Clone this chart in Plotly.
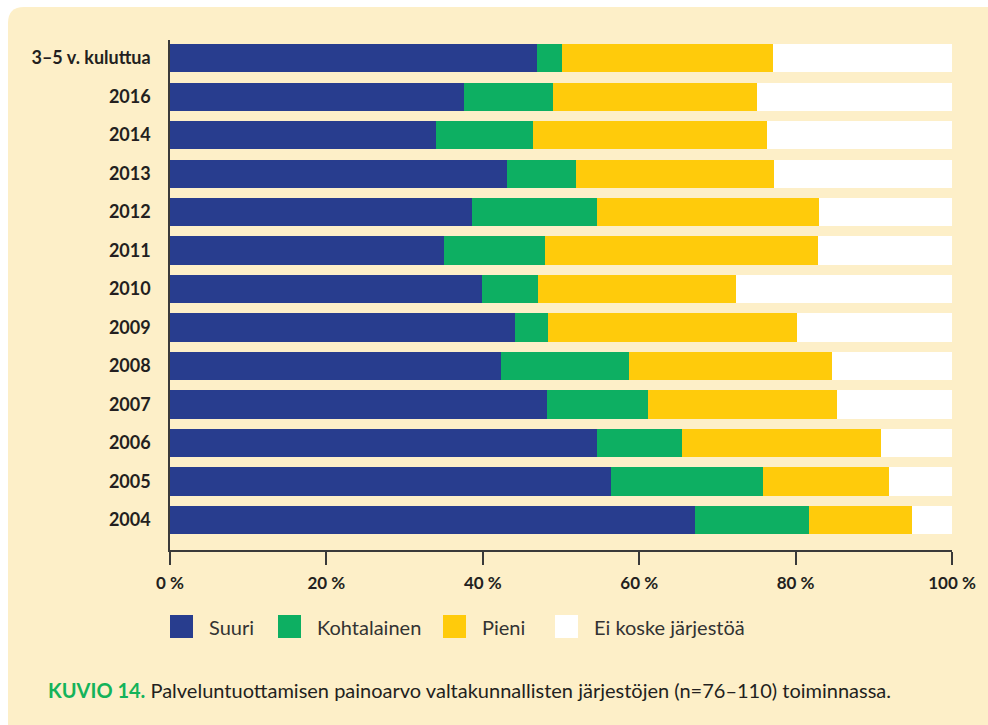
import plotly.graph_objects as go

# Categories (top to bottom) and the share of each answer, in percent
categories = ["3–5 v. kuluttua", "2016", "2014", "2013", "2012", "2011", "2010",
              "2009", "2008", "2007", "2006", "2005", "2004"]
suuri = [46.9, 37.6, 34.0, 43.1, 38.6, 35.0, 39.9, 44.1, 42.3, 48.2, 54.6, 56.4, 67.1]
kohtalainen = [3.2, 11.4, 12.4, 8.8, 16.0, 13.0, 7.2, 4.3, 16.4, 12.9, 10.9, 19.4, 14.6]
pieni = [27.0, 26.1, 29.9, 25.3, 28.4, 34.9, 25.3, 31.8, 26.0, 24.2, 25.4, 16.1, 13.2]
ei_koske = [22.9, 24.9, 23.7, 22.8, 17.0, 17.1, 27.6, 19.8, 15.3, 14.7, 9.1, 8.1, 5.1]

series_names = ["Suuri", "Kohtalainen", "Pieni", "Ei koske järjestöä"]
series_values = [suuri, kohtalainen, pieni, ei_koske]
series_colors = ["#283d8e", "#0daf62", "#ffcb0b", "#ffffff"]

x_ticks = [0, 20, 40, 60, 80, 100]
x_tick_labels = [f"{v} %" for v in x_ticks]

CREAM = "#fdefc8"
INK = "#231f20"
FONT = "Lato"

fig = go.Figure()
for name, vals, col in zip(series_names, series_values, series_colors):
    fig.add_trace(go.Bar(
        y=categories, x=vals, name=name, orientation="h",
        marker=dict(color=col, line=dict(width=0)),
        showlegend=False,
    ))

# Cream panel with a rounded top-left corner (paper coordinates)
W, H = 988, 725
L, R, T, B = 170, 36, 40, 175
pw, ph = W - L - R, H - T - B


def px_x(px):
    return (px - L) / pw


def px_y(py):
    return (H - B - py) / ph


x0, x1 = px_x(8), px_x(1000)
y0, y1 = px_y(740), px_y(7)
rx, ry = 16 / pw, 16 / ph
panel_path = (f"M {x0},{y0} L {x0},{y1 - ry} Q {x0},{y1} {x0 + rx},{y1} "
              f"L {x1},{y1} L {x1},{y0} Z")
shapes = [dict(type="path", path=panel_path, xref="paper", yref="paper",
               fillcolor=CREAM, line=dict(width=0), layer="below")]

# Legend drawn as swatches with labels below the axis
annotations = []
swatch_left = [170, 278, 443, 555]
for name, col, sx in zip(series_names, series_colors, swatch_left):
    shapes.append(dict(type="rect", xref="paper", yref="paper",
                       x0=px_x(sx), x1=px_x(sx + 23), y0=px_y(638), y1=px_y(615),
                       fillcolor=col, line=dict(width=0)))
    annotations.append(dict(text=name, xref="paper", yref="paper",
                            x=px_x(sx + 37), y=px_y(627), xanchor="left", yanchor="middle",
                            showarrow=False, font=dict(family=FONT, size=20, color="#333333")))

annotations.append(dict(
    text=("<span style='color:#14b35a'><b>KUVIO 14.</b></span> "
          "Palveluntuottamisen painoarvo valtakunnallisten järjestöjen (n=76–110) toiminnassa."),
    xref="paper", yref="paper", x=px_x(46), y=px_y(690),
    xanchor="left", yanchor="middle", showarrow=False,
    font=dict(family=FONT, size=20, color=INK)))

fig.update_layout(
    width=W, height=H,
    margin=dict(l=L, r=R, t=T, b=B, pad=0),
    barmode="stack", bargap=0.27,
    paper_bgcolor="#ffffff", plot_bgcolor="rgba(0,0,0,0)",
    font=dict(family=FONT, color=INK),
    shapes=shapes, annotations=annotations,
    xaxis=dict(range=[0, 100], tickvals=x_ticks, ticktext=x_tick_labels,
               showgrid=False, zeroline=False,
               showline=True, linecolor="#3a3a3a", linewidth=1.5,
               ticks="outside", ticklen=13, tickwidth=1.5, tickcolor="#3a3a3a",
               tickfont=dict(family=FONT, size=17, color=INK, weight="bold"),
               ticklabelstandoff=4),
    yaxis=dict(categoryorder="array", categoryarray=categories,
               range=[12.78, -0.47],
               showgrid=False, zeroline=False,
               showline=True, linecolor="#3a3a3a", linewidth=1.5,
               ticks="", ticklabelstandoff=14,
               tickfont=dict(family=FONT, size=18, color=INK, weight="bold")),
)

fig.write_html("out.html")
